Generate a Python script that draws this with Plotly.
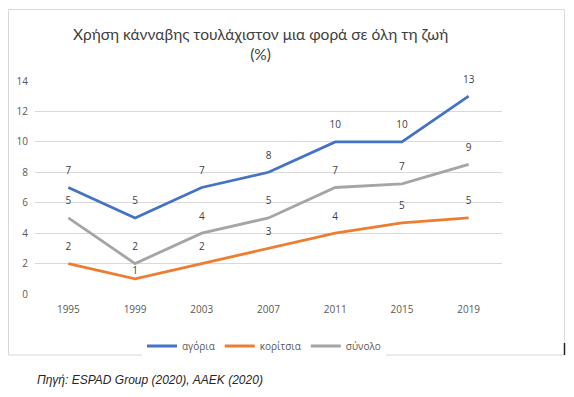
import plotly.graph_objects as go

years = ["1995", "1999", "2003", "2007", "2011", "2015", "2019"]
boys = [7, 5, 7, 8, 10, 10, 13]
girls = [2, 1, 2, 3, 4, 4.67, 5]
total = [5, 2, 4, 5, 7, 7.24, 8.52]
y_ticks = [0, 2, 4, 6, 8, 10, 12, 14]

FONT = "Open Sans"
OFF = 8  # browser body margin
W, H = 558, 381
L, T = 27, 73
PW, PH = 467, 213
R, B = W - L - PW, H - T - PH


def px(x):  # page pixel -> paper
    return (x - OFF - L) / PW


def py(y):
    return (T + PH - (y - OFF)) / PH


label_gap = {"αγόρια": [16] * 7,
             "κορίτσια": [16, 2, 16, 16, 16, 16, 16],
             "σύνολο": [16] * 7}

fig = go.Figure()
for name, vals, col in [("αγόρια", boys, "#4472C4"),
                        ("κορίτσια", girls, "#ED7D31"),
                        ("σύνολο", total, "#A5A5A5")]:
    fig.add_trace(go.Scatter(
        x=years, y=vals, name=name, mode="lines+markers+text",
        line=dict(color=col, width=2.8),
        marker=dict(size=label_gap[name], color="rgba(0,0,0,0)",
                    line=dict(width=0)),
        texttemplate="%{y:.0f}", textposition="top center",
        textfont=dict(family=FONT, size=10, color="#404040"),
        cliponaxis=False,
    ))

fig.update_layout(
    width=W, height=H,
    margin=dict(l=L, r=R, t=T, b=B, autoexpand=False),
    paper_bgcolor="white", plot_bgcolor="white",
    showlegend=True,
    legend=dict(orientation="h", x=px(264), xanchor="center",
                y=py(346), yanchor="middle",
                font=dict(family=FONT, size=10, color="#595959"),
                itemwidth=30, traceorder="normal"),
    xaxis=dict(type="category", showgrid=False, zeroline=False,
               showline=False, ticks="", ticklabelstandoff=8,
               tickfont=dict(family=FONT, size=10, color="#595959")),
    yaxis=dict(range=[0, 14], tickvals=y_ticks, showgrid=True,
               gridcolor="#D9D9D9", gridwidth=1, zeroline=False,
               showline=False, ticks="", ticklabelstandoff=6,
               tickfont=dict(family=FONT, size=10, color="#595959")),
    shapes=[
        dict(type="rect", xref="paper", yref="paper",
             x0=px(8.5), x1=px(564.5), y0=py(355), y1=py(9.5),
             line=dict(color="#D9D9D9", width=1), layer="below"),
        dict(type="line", xref="paper", yref="paper",
             x0=px(564.5), x1=px(564.5), y0=py(355), y1=py(343),
             line=dict(color="#222222", width=1.5)),
    ],
    annotations=[
        dict(text="Χρήση κάνναβης τουλάχιστον μια φορά σε όλη τη ζωή<br>(%)",
             xref="paper", yref="paper", x=px(260), y=py(44),
             xanchor="center", yanchor="middle", showarrow=False,
             font=dict(family="Lato", size=15.5, color="#404040")),
        dict(text="<i>Πηγή: ESPAD Group (2020), ΑΑΕΚ (2020)</i>",
             xref="paper", yref="paper", x=px(35), y=py(380),
             xanchor="left", yanchor="middle", showarrow=False,
             font=dict(family="Liberation Sans", size=12, color="#262626")),
    ],
)

fig.write_html("out.html")
